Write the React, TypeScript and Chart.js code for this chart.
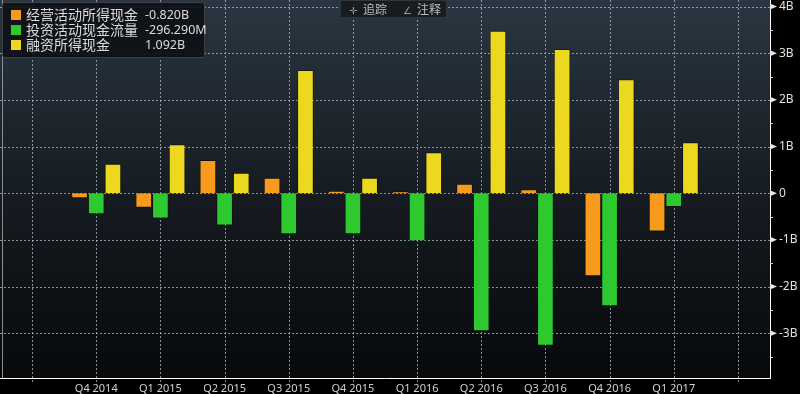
import React, { useEffect, useRef } from 'react';
import { Chart, registerables } from 'chart.js';

Chart.register(...registerables);

const categories = ['', 'Q4 2014', 'Q1 2015', 'Q2 2015', 'Q3 2015', 'Q4 2015', 'Q1 2016', 'Q2 2016', 'Q3 2016', 'Q4 2016', 'Q1 2017', ''];
const operatingCash = [null, -0.11, -0.31, 0.71, 0.33, 0.05, 0.04, 0.2, 0.085, -1.78, -0.82, null];
const investingCash = [null, -0.45, -0.54, -0.69, -0.88, -0.88, -1.03, -2.96, -3.27, -2.42, -0.296, null];
const financingCash = [null, 0.63, 1.05, 0.44, 2.64, 0.33, 0.88, 3.48, 3.09, 2.44, 1.092, null];
const seriesNames = ['经营活动所得现金', '投资活动现金流量', '融资所得现金'];
const legendValues = ['-0.820B', '-296.290M', '1.092B'];
const seriesColors = ['#f89b1c', '#2ec92e', '#ecd91f'];
const yTickValues = [-3, -2, -1, 0, 1, 2, 3, 4];
const yMinorTickValues = [-3.5, -2.5, -1.5, -0.5, 0.5, 1.5, 2.5, 3.5];
const yMin = -3.96;
const yMax = 4.14;
const toolbarItems = [
  { icon: '✛', label: '追踪' },
  { icon: '∠', label: '注释' },
];

const gridColor = 'rgba(180,188,196,0.75)';

const bgPlugin = {
  id: 'bgPlugin',
  beforeDraw(chart: any) {
    const { ctx, chartArea, width, height } = chart;
    ctx.save();
    ctx.fillStyle = '#000000';
    ctx.fillRect(0, 0, width, height);
    const g = ctx.createLinearGradient(0, chartArea.top, 0, chartArea.bottom);
    g.addColorStop(0, '#2a3641');
    g.addColorStop(0.5, '#161c22');
    g.addColorStop(1, '#07090b');
    ctx.fillStyle = g;
    ctx.fillRect(chartArea.left, chartArea.top, chartArea.right - chartArea.left, chartArea.bottom - chartArea.top);
    ctx.restore();
  },
  beforeDatasetsDraw(chart: any) {
    const { ctx, chartArea } = chart;
    const y = chart.scales.y;
    const x = chart.scales.x;
    ctx.save();
    ctx.strokeStyle = gridColor;
    ctx.lineWidth = 1;
    ctx.setLineDash([2, 2]);
    yTickValues.forEach((v) => {
      const py = Math.round(y.getPixelForValue(v)) + 0.5;
      ctx.beginPath();
      ctx.moveTo(chartArea.left, py);
      ctx.lineTo(chartArea.right, py);
      ctx.stroke();
    });
    categories.forEach((_, i) => {
      const px = Math.round(x.getPixelForValue(i)) + 0.5;
      ctx.beginPath();
      ctx.moveTo(px, chartArea.top);
      ctx.lineTo(px, chartArea.bottom + 4);
      ctx.stroke();
    });
    ctx.restore();
  },
  afterDraw(chart: any) {
    const { ctx, chartArea } = chart;
    const y = chart.scales.y;
    const x0 = y.left;
    ctx.save();
    ctx.fillStyle = '#e6e6e6';
    yTickValues.forEach((v) => {
      const py = y.getPixelForValue(v);
      ctx.beginPath();
      ctx.moveTo(x0, py - 3);
      ctx.lineTo(x0 + 7, py);
      ctx.lineTo(x0, py + 3);
      ctx.closePath();
      ctx.fill();
    });
    ctx.strokeStyle = '#cfcfcf';
    ctx.lineWidth = 1;
    yMinorTickValues.forEach((v) => {
      const py = Math.round(y.getPixelForValue(v)) + 0.5;
      ctx.beginPath();
      ctx.moveTo(x0, py);
      ctx.lineTo(x0 + 3, py);
      ctx.stroke();
    });
    ctx.strokeStyle = '#8a8f94';
    ctx.beginPath();
    ctx.moveTo(chartArea.left + 2.5, chartArea.top);
    ctx.lineTo(chartArea.left + 2.5, chartArea.bottom);
    ctx.stroke();
    ctx.restore();
  },
};

export default function App() {
  const ref = useRef<HTMLCanvasElement | null>(null);
  useEffect(() => {
    document.body.style.margin = '0';
    document.body.style.background = '#000';
    const canvas = ref.current;
    if (!canvas) return;
    const datasets = [operatingCash, investingCash, financingCash].map((d, i) => ({
      label: seriesNames[i],
      data: d,
      backgroundColor: seriesColors[i],
      borderColor: 'rgba(0,0,0,0.35)',
      borderWidth: 1,
      barPercentage: 1,
      categoryPercentage: 0.78,
    }));
    const chart = new Chart(canvas, {
      type: 'bar',
      data: { labels: categories, datasets },
      plugins: [bgPlugin],
      options: {
        animation: false,
        responsive: false,
        maintainAspectRatio: false,
        layout: { padding: 0 },
        plugins: { legend: { display: false }, tooltip: { enabled: false } },
        scales: {
          x: {
            offset: true,
            grid: { display: false, drawTicks: false },
            border: { display: true, color: '#ffffff', width: 1 },
            ticks: {
              color: '#d0d0d0',
              font: { family: 'Noto Sans', size: 11 },
              padding: 4,
              maxRotation: 0,
              autoSkip: false,
            },
            afterFit(scale: any) {
              scale.height = 16;
              scale.paddingLeft = 0;
              scale.paddingRight = 0;
            },
          },
          y: {
            position: 'right',
            min: yMin,
            max: yMax,
            grid: { display: false, drawTicks: false },
            border: { display: true, color: '#ffffff', width: 1 },
            ticks: {
              color: '#e0e0e0',
              font: { family: 'Noto Sans', size: 12 },
              padding: 9,
              callback: (v: any) => (v === 0 ? '0' : `${v}B`),
            },
            afterBuildTicks(scale: any) {
              scale.ticks = yTickValues.map((v) => ({ value: v }));
            },
            afterFit(scale: any) {
              scale.width = 30;
              scale.paddingTop = 0;
              scale.paddingBottom = 0;
            },
          },
        },
      },
    });
    return () => chart.destroy();
  }, []);

  return (
    <div style={{ position: 'fixed', left: 0, top: 0, width: 800, height: 394, background: '#000' }}>
      <canvas ref={ref} width={800} height={394} style={{ width: 800, height: 394, display: 'block' }} />
      <div
        style={{
          position: 'absolute',
          left: 2,
          top: 2,
          width: 201,
          height: 54,
          background: 'rgba(14,17,21,0.92)',
          border: '1px solid #3a4046',
          borderRadius: 3,
          fontFamily: '"Noto Sans CJK SC", "Noto Sans", sans-serif',
          color: '#dcdcdc',
        }}
      >
        {seriesNames.map((name, i) => (
          <div key={name} style={{ position: 'absolute', left: 0, top: 4 + i * 15, height: 15, width: 201 }}>
            <div style={{ position: 'absolute', left: 8, top: 3, width: 10, height: 10, background: seriesColors[i] }} />
            <div style={{ position: 'absolute', left: 23, top: -2, fontSize: 14, lineHeight: '18px', whiteSpace: 'nowrap' }}>{name}</div>
            <div style={{ position: 'absolute', left: 142, top: -1, fontSize: 12.5, lineHeight: '17px', whiteSpace: 'nowrap', fontFamily: '"Noto Sans", sans-serif' }}>{legendValues[i]}</div>
          </div>
        ))}
      </div>
      <div
        style={{
          position: 'absolute',
          left: 340,
          top: 0,
          width: 107,
          height: 18,
          background: 'rgba(22,27,32,0.95)',
          border: '1px solid #30363c',
          boxSizing: 'border-box',
          fontFamily: '"Noto Sans CJK SC", sans-serif',
          fontSize: 12,
          color: '#bdbdbd',
        }}
      >
        {toolbarItems.map((t, i) => (
          <div key={t.label} style={{ position: 'absolute', left: 8 + i * 54, top: 0, height: 16, whiteSpace: 'nowrap', lineHeight: '16px' }}>
            <span style={{ display: 'inline-block', width: 14, fontFamily: '"DejaVu Sans", sans-serif', fontSize: 10, color: '#9a9a9a' }}>{t.icon}</span>
            {t.label}
          </div>
        ))}
      </div>
    </div>
  );
}
